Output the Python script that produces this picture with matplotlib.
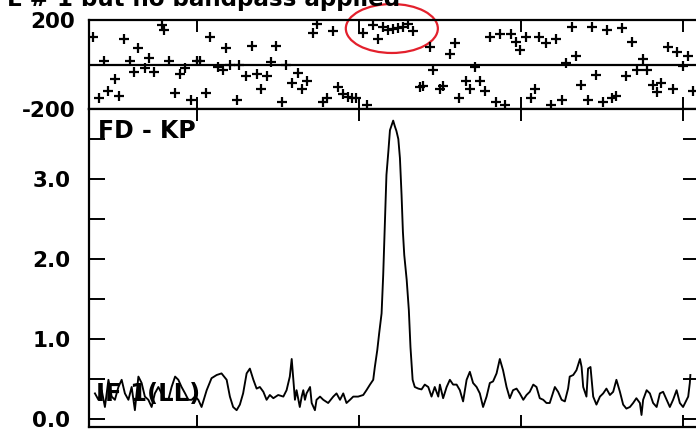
import matplotlib
matplotlib.use("Agg")
import matplotlib.pyplot as plt
from matplotlib.patches import Ellipse
from matplotlib.ticker import FixedLocator, MultipleLocator

# ---------------- data ----------------
phase_chan = [
    1.4, 3.8, 5.6, 7.1, 9.6, 11.0, 13.0, 15.2, 16.8, 18.3,
    20.7, 22.3, 24.2, 27.1, 27.9, 29.7, 31.7, 33.7, 35.6, 37.7,
    39.9, 41.1, 43.3, 44.8, 47.9, 49.5, 50.7, 52.2, 54.7, 55.7,
    58.1, 60.3, 62.1, 63.7, 65.8, 67.4, 69.3, 71.4, 73.0, 75.3,
    77.3, 79.1, 80.6, 83.1, 84.3, 86.6, 88.0, 90.3, 92.1, 94.2,
    96.0, 97.3, 99.1, 101.6, 102.9, 105.3, 107.1, 109.0, 110.9, 112.7,
    114.6, 116.4, 118.3, 120.1, 122.6, 123.8, 126.3, 127.5, 130.0, 131.2,
    133.7, 135.6, 137.1, 139.5, 141.1, 143.0, 144.8, 146.9, 148.5, 150.7,
    152.2, 154.1, 156.2, 158.1, 159.6, 161.9, 163.7, 165.4, 166.8, 169.3,
    171.0, 173.0, 175.1, 176.6, 179.0, 180.6, 182.2, 184.7, 186.4, 188.0,
    190.3, 192.1, 193.8, 195.4, 197.5, 199.1, 201.0, 203.2, 205.1, 206.6,
    209.0, 210.5, 212.1, 214.6, 216.2, 217.7, 220.1, 222.0, 223.8,
]
phase_deg = [
    125, -149, 16, -118, -67, -142, 113, 16, -32, 76,
    -17, 28, -32, 178, 155, 16, -130, -43, -14, -160,
    16, 16, -130, 122, -10, -25, 76, -2, -160, -2,
    -52, 83, -43, -112, -52, 13, 85, -170, -2, -82,
    -40, -112, -73, 140, 182, -167, -152, 152, -100, -134,
    -145, -152, -149, 143, -182, 178, 113, 167, 155, 158,
    163, 167, 182, 152, -103, -97, 80, -25, -112, -97,
    47, 95, -149, -73, -112, -13, -73, -119, 122, -167,
    136, -182, 136, 103, 65, 122, -149, -112, 122, 95,
    -182, 113, -160, 8, 170, 38, -92, -160, 170, -47,
    -167, 155, -152, -142, 163, -52, 103, -25, 23, -25,
    -92, -122, -85, 77, -112, 55, -5, 38, -118,
]

amp_chan = [
    2.2, 3.5, 4.7, 5.9, 7.2, 8.4, 9.6, 10.9, 12.1, 13.3,
    14.6, 15.8, 17.0, 18.3, 19.5, 20.7, 22.0, 23.2, 24.4, 25.7,
    26.9, 28.1, 29.4, 30.6, 31.9, 33.1, 34.3, 35.6, 36.8, 38.0,
    39.3, 40.5, 41.7, 43.6, 45.4, 47.3, 49.1, 51.0, 52.2, 53.4,
    54.7, 55.9, 57.1, 58.4, 59.6, 60.9, 62.1, 63.3, 64.6, 65.8,
    67.0, 68.3, 70.1, 72.0, 73.2, 74.4, 75.1, 75.7, 76.3, 76.9,
    78.1, 78.8, 79.4, 80.0, 80.6, 81.9, 82.5, 83.7, 84.3, 85.6,
    86.8, 88.6, 90.5, 91.7, 93.0, 94.2, 95.4, 96.7, 97.9, 99.7,
    101.6, 102.8, 104.1, 105.3, 105.9, 106.8, 107.5, 108.4, 109.0, 109.6,
    110.2, 110.9, 111.5, 112.2, 112.7, 113.3, 113.9, 114.6, 115.2, 115.8,
    116.3, 116.8, 117.7, 118.5, 119.1, 119.9, 120.7, 122.0, 123.2, 124.4,
    125.7, 126.9, 128.1, 129.4, 130.0, 131.2, 132.5, 133.7, 134.9, 136.2,
    137.4, 138.6, 139.9, 141.1, 142.3, 143.6, 144.8, 146.0, 147.3, 148.5,
    149.7, 151.0, 152.2, 153.4, 154.7, 155.9, 157.1, 158.4, 159.6, 160.9,
    162.1, 163.3, 164.6, 165.8, 167.0, 168.3, 169.5, 170.7, 172.6, 173.8,
    175.1, 176.3, 177.5, 178.1, 179.4, 180.6, 181.9, 182.5, 183.1, 184.3,
    184.9, 185.8, 186.8, 188.0, 189.3, 190.5, 191.7, 193.0, 194.2, 195.4,
    196.7, 197.9, 199.1, 200.4, 201.6, 202.8, 204.1, 204.7, 205.3, 206.6,
    207.8, 209.0, 210.3, 211.5, 212.7, 214.0, 215.2, 216.4, 217.7, 218.9,
    220.1, 221.4, 222.0, 222.6, 222.8,
]
amp_val = [
    0.32, 0.24, 0.36, 0.15, 0.49, 0.28, 0.24, 0.40, 0.49, 0.32,
    0.24, 0.40, 0.11, 0.53, 0.45, 0.28, 0.24, 0.15, 0.32, 0.40,
    0.32, 0.24, 0.24, 0.40, 0.53, 0.49, 0.40, 0.32, 0.24, 0.24,
    0.28, 0.24, 0.15, 0.36, 0.51, 0.55, 0.57, 0.49, 0.28, 0.15,
    0.11, 0.18, 0.32, 0.57, 0.63, 0.49, 0.38, 0.40, 0.34, 0.24,
    0.30, 0.26, 0.30, 0.28, 0.36, 0.53, 0.75, 0.49, 0.24, 0.36,
    0.15, 0.28, 0.36, 0.24, 0.32, 0.40, 0.20, 0.11, 0.24, 0.28,
    0.24, 0.20, 0.28, 0.32, 0.24, 0.32, 0.20, 0.24, 0.28, 0.28,
    0.30, 0.36, 0.43, 0.49, 0.65, 0.86, 1.07, 1.32, 1.80, 2.43,
    3.05, 3.34, 3.61, 3.68, 3.73, 3.66, 3.60, 3.50, 3.26, 2.80,
    2.34, 2.05, 1.74, 1.36, 0.90, 0.49, 0.40, 0.38, 0.37, 0.43,
    0.40, 0.28, 0.40, 0.28, 0.43, 0.26, 0.40, 0.49, 0.43, 0.43,
    0.36, 0.22, 0.49, 0.59, 0.45, 0.40, 0.32, 0.15, 0.28, 0.45,
    0.47, 0.57, 0.75, 0.61, 0.40, 0.26, 0.36, 0.38, 0.32, 0.24,
    0.30, 0.34, 0.43, 0.40, 0.26, 0.24, 0.20, 0.20, 0.40, 0.34,
    0.24, 0.22, 0.38, 0.53, 0.55, 0.61, 0.75, 0.65, 0.40, 0.28,
    0.63, 0.65, 0.28, 0.18, 0.28, 0.32, 0.38, 0.30, 0.34, 0.49,
    0.34, 0.18, 0.13, 0.15, 0.20, 0.26, 0.20, 0.05, 0.24, 0.36,
    0.32, 0.20, 0.15, 0.32, 0.34, 0.24, 0.15, 0.24, 0.36, 0.20,
    0.15, 0.24, 0.28, 0.45, 0.55,
]

x_ticks = [40, 100, 160, 220]
phase_ticks = [-200, 200]
phase_tick_labels = ["-200", "200"]
amp_ticks = [0.0, 1.0, 2.0, 3.0]
amp_tick_labels = ["0.0", "1.0", "2.0", "3.0"]
title_text = "L # 1 but no bandpass applied"
source_label = "FD - KP"
if_label = "IF 1(LL)"
highlight_center = (112.2, 161.8)
highlight_size = (34.1, 220)

# ---------------- layout ----------------
W, H = 696, 429
fig = plt.figure(figsize=(W / 100, H / 100), dpi=100)
fig.patch.set_facecolor("white")
plt.rcParams["font.family"] = ["DejaVu Sans"]
plt.rcParams["font.weight"] = "bold"


def rect(l, t, r, b):
    return [l / W, 1 - b / H, (r - l) / W, (b - t) / H]


ax1 = fig.add_axes(rect(89, 20, 699, 109))
ax2 = fig.add_axes(rect(89, 109, 699, 427))

for ax in (ax1, ax2):
    for sp in ax.spines.values():
        sp.set_linewidth(1.6)
        sp.set_color("black")
    ax.set_xlim(0, 226)
    ax.xaxis.set_major_locator(FixedLocator(x_ticks))
    ax.tick_params(axis="x", direction="in", top=True, bottom=True,
                   length=8.5, width=1.4, labelbottom=False)

# top panel: phases
ax1.plot(phase_chan, phase_deg, linestyle="none", marker="+",
         markersize=7.5, markeredgewidth=1.6, color="black")
ax1.axhline(0, color="black", lw=1.6)
ax1.set_ylim(-200, 200)
ax1.set_yticks(phase_ticks)
ax1.set_yticklabels(phase_tick_labels, fontsize=15.5, fontweight="bold")
ax1.tick_params(axis="y", length=0, pad=10)
ax1.add_patch(Ellipse(highlight_center, highlight_size[0], highlight_size[1],
                      fill=False, edgecolor="#e3202c", lw=1.6, clip_on=False))

# bottom panel: amplitude spectrum
ax2.plot(amp_chan, amp_val, color="black", lw=1.35)
ax2.set_ylim(-0.1, 3.875)
ax2.yaxis.set_major_locator(FixedLocator(amp_ticks))
ax2.yaxis.set_minor_locator(MultipleLocator(0.5))
ax2.set_yticklabels(amp_tick_labels, fontsize=15.5, fontweight="bold")
ax2.tick_params(axis="y", which="both", direction="in", left=True, right=True,
                length=11.5, width=1.4, pad=13.5)

ax2.text(98 / W, 1 - 131 / H, source_label, transform=fig.transFigure,
         fontsize=17, fontweight="bold", ha="left", va="center")
ax2.text(96 / W, 1 - 394 / H, if_label, transform=fig.transFigure,
         fontsize=17.5, fontweight="bold", ha="left", va="center")
fig.text(400 / W, 1 - 6 / H, title_text, fontsize=16.6, fontweight="bold",
         ha="right", va="baseline")

fig.savefig("out.png", dpi=100, facecolor="white")
